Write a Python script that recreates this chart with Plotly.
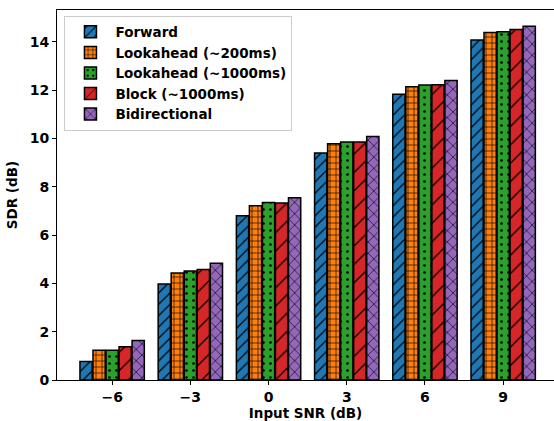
import plotly.graph_objects as go

categories = ["\u22126", "\u22123", "0", "3", "6", "9"]
series_names = ["Forward", "Lookahead (~200ms)", "Lookahead (~1000ms)", "Block (~1000ms)", "Bidirectional"]
forward = [0.77, 3.98, 6.80, 9.40, 11.83, 14.08]
lookahead_200 = [1.23, 4.43, 7.22, 9.78, 12.14, 14.39]
lookahead_1000 = [1.23, 4.51, 7.35, 9.85, 12.21, 14.42]
block_1000 = [1.38, 4.58, 7.33, 9.85, 12.23, 14.51]
bidirectional = [1.64, 4.83, 7.55, 10.08, 12.40, 14.65]
y_ticks = [0, 2, 4, 6, 8, 10, 12, 14]

values = [forward, lookahead_200, lookahead_1000, block_1000, bidirectional]
colors = ["#1f77b4", "#ff7f0e", "#2ca02c", "#d62728", "#9467bd"]
shapes = ["/", "+", ".", "/", "x"]
sizes = [8, 6, 7, 13, 8]
solids = [0.15, 0.2, 0.12, 0.1, 0.15]

x_idx = list(range(len(categories)))
fig = go.Figure()
for name, vals, c, sh, sz, so in zip(series_names, values, colors, shapes, sizes, solids):
    fig.add_trace(go.Bar(
        x=x_idx, y=vals, name=name,
        marker=dict(color=c, line=dict(color="black", width=1.5),
                    pattern=dict(shape=sh, size=sz, solidity=so, fgcolor="black", fgopacity=1)),
    ))

font = dict(family="DejaVu Sans", size=14, color="black")
title_font = dict(family="DejaVu Sans", size=13.5, color="black")
fig.update_layout(
    width=554, height=421,
    margin=dict(l=57, r=0, t=10, b=41),
    plot_bgcolor="white", paper_bgcolor="white",
    barmode="group", bargap=0.167, bargroupgap=0.06,
    font=font,
    showlegend=True,
    legend=dict(x=0.015, y=0.985, xanchor="left", yanchor="top",
                bgcolor="rgba(255,255,255,0.8)", bordercolor="#cccccc", borderwidth=1,
                font=dict(family="DejaVu Sans", size=13.5, color="black", weight="bold"),
                tracegroupgap=0, itemwidth=40),
    xaxis=dict(range=[-0.705, 5.65], tickvals=x_idx, ticktext=["<b>%s</b>" % c for c in categories],
               tickfont=font,
               showline=True, linecolor="black", linewidth=1, mirror=True,
               ticks="outside", ticklen=4, tickcolor="black", showgrid=False, zeroline=False,
               title=dict(text="<b>Input SNR (dB)</b>", standoff=1, font=title_font)),
    yaxis=dict(range=[0, 15.32], tickvals=y_ticks,
               ticktext=["<b>%d</b>" % v for v in y_ticks],
               tickfont=font,
               showline=True, linecolor="black", linewidth=1,
               ticks="outside", ticklen=4, tickcolor="black", showgrid=False, zeroline=False,
               title=dict(text="<b>SDR (dB)</b>", standoff=8, font=title_font)),
)
fig.write_html("out.html")
